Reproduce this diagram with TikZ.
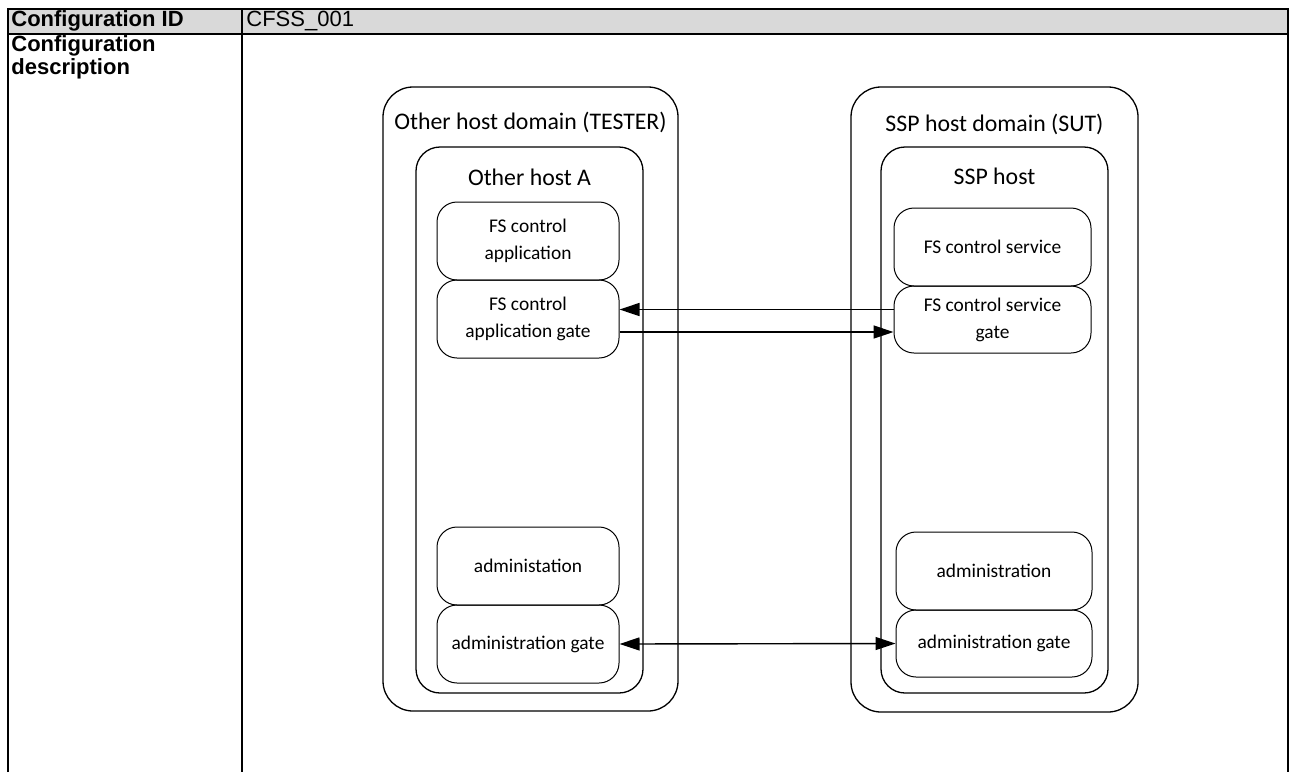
\documentclass[tikz,border=0pt]{standalone}
\usepackage{fontspec}
\setmainfont{Liberation Sans}
\newfontfamily\boxfont{Carlito}
\usetikzlibrary{arrows.meta,positioning}
\definecolor{headgray}{RGB}{217,217,217}
\tikzset{
  rule/.style={line width=1pt},
  celltext/.style={inner sep=0pt,align=left,font=\fontsize{11}{11.5}\selectfont},
  domainbox/.style={draw,rounded corners=15pt,line width=0.65pt},
  hostbox/.style={draw,rounded corners=12pt,line width=0.65pt},
  partbox/.style={draw,rounded corners=10pt,line width=0.5pt,align=center,inner sep=0pt,
    font=\boxfont\fontsize{9.7}{13.5}\selectfont},
  boxtitle/.style={inner sep=0pt,font=\boxfont\fontsize{11.9}{13}\selectfont},
  flow/.style={line width=0.7pt,>={Triangle[length=10pt,width=6.5pt]}}
}
\begin{document}
\begin{tikzpicture}[x=0.5pt,y=-0.5pt]
    \useasboundingbox (0,0) rectangle (1289,772);
    \fill[headgray] (8,9) rectangle (1288,34);
    \draw[rule] (8,772) -- (8,9) -- (1288,9) -- (1288,772);
    \draw[rule] (8,34) -- (1288,34);
    \draw[rule] (242,9) -- (242,772);
    \node[celltext,anchor=west,font=\bfseries\fontsize{11}{11.5}\selectfont] (idhead) at (11,21) {Configuration ID};
    \node[celltext,anchor=west] (idvalue) at (246,21) {CFSS\_001};
    \node[celltext,anchor=north west,font=\bfseries\fontsize{11}{11.5}\selectfont] (deschead) at (11,35) {Configuration\\description};

    \node[domainbox,minimum width=147.5pt,minimum height=312pt] (tester) at (530.5,399) {};
    \node[boxtitle] (testertitle) at ([yshift=-18pt]tester.north) {Other host domain (TESTER)};
    \node[hostbox,minimum width=113.5pt,minimum height=273pt] (hosta) at (529.5,420) {};
    \node[boxtitle] (hostatitle) at ([yshift=-15.5pt]hosta.north) {Other host A};

    \node[domainbox,minimum width=143.5pt,minimum height=312.5pt] (sut) at (994.5,399.5) {};
    \node[boxtitle] (suttitle) at ([yshift=-19pt]sut.north) {SSP host domain (SUT)};
    \node[hostbox,minimum width=113.5pt,minimum height=273pt] (ssphost) at (994.5,420) {};
    \node[boxtitle] (ssphosttitle) at ([yshift=-15pt]ssphost.north) {SSP host};

    \foreach \name/\x/\y/\w/\h/\txt in {
        lapp/528/241/91/39/{FS control\\application},
        lgate/528/319/91/39/{FS control\\application gate},
        ladm/528/566/91/39/{administation},
        lagate/528/644/91/39/{administration gate},
        rsvc/992.5/247/98.5/39/{FS control service},
        rgate/992.5/319.5/98.5/33.5/{FS control service\\gate},
        radm/994/571/98/39/{administration},
        ragate/994/643.5/98/33.5/{administration gate}} {
      \node[partbox,minimum width=\w pt,minimum height=\h pt] (\name) at (\x,\y) {\txt};
    }

    \draw[flow,->] ([yshift=5pt]rgate.west) -- ([yshift=5pt]rgate.west -| lgate.east);
    \draw[flow,->] ([yshift=-6.5pt]lgate.east) -- ([yshift=-6.5pt]lgate.east -| rgate.west);
    \draw[flow,<->] (lagate.east) -- (ragate.west);
\end{tikzpicture}
\end{document}
